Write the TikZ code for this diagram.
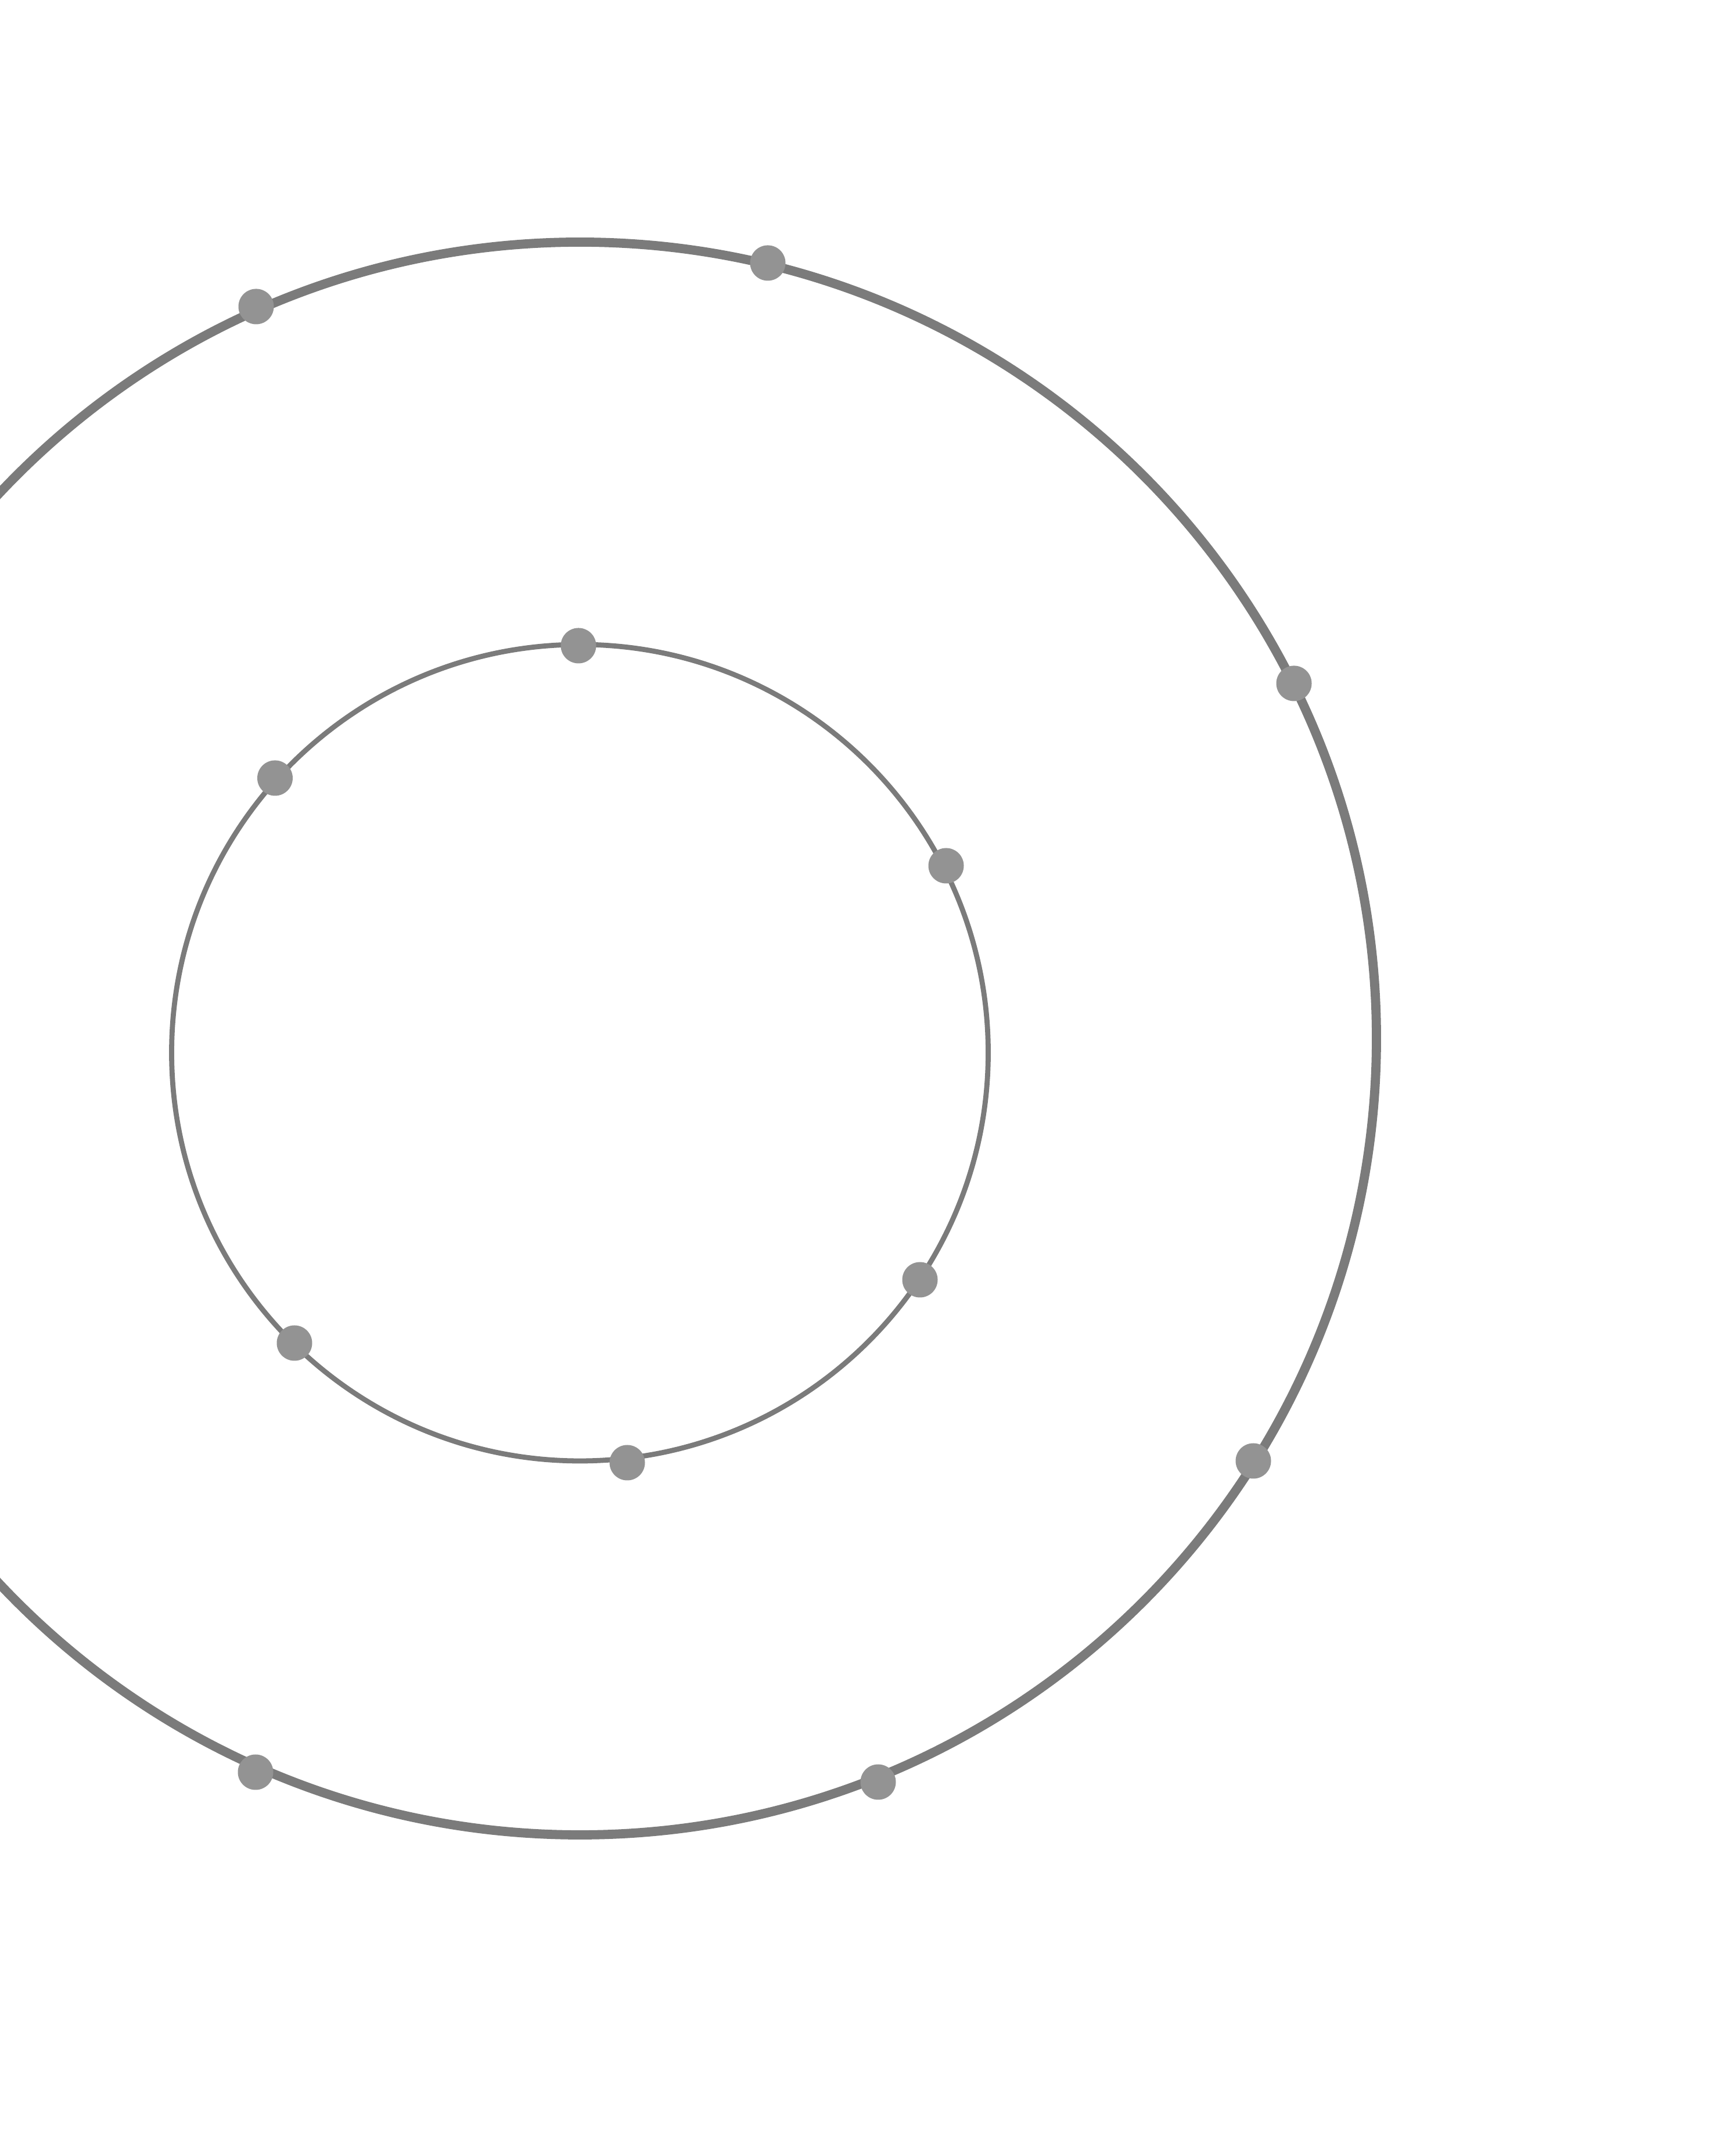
\documentclass[tikz,border=0pt]{standalone}
\definecolor{gris}{RGB}{123,123,123}
\definecolor{grispunto}{RGB}{147,147,147}
\begin{document}
\begin{tikzpicture}
    \def\cx{9.985}     % x del centro
    \def\cye{19.245}   % y centro exterior
    \def\cyi{19.00}    % y centro interior
    \def\re{13.715}    % radio exterior
    \def\ri{7.03}      % radio interior
    \def\rp{0.305}     % radio de los puntos

    % marco
    \useasboundingbox (0,0) rectangle (29.64,37.13);
    \clip (0,0) rectangle (29.64,37.13);

    % circunferencia exterior
    \draw[gris, line width=4.5pt] (\cx,\cye) circle [radius=\re];
    % circunferencia interior
    \draw[gris, line width=2.5pt] (\cx,\cyi) circle [radius=\ri];

    % puntos sobre la exterior
    \foreach \x/\y in {4.41/31.85, 13.22/32.60, 22.28/25.36, 21.58/11.97, 15.12/6.44, 4.40/6.61}
        \fill[grispunto] (\x,\y) circle [radius=\rp];
    % puntos sobre la interior
    \foreach \x/\y in {9.96/26.01, 4.735/23.73, 16.29/22.22, 15.84/15.09, 10.80/11.94, 5.07/14.00}
        \fill[grispunto] (\x,\y) circle [radius=\rp];
\end{tikzpicture}
\end{document}
